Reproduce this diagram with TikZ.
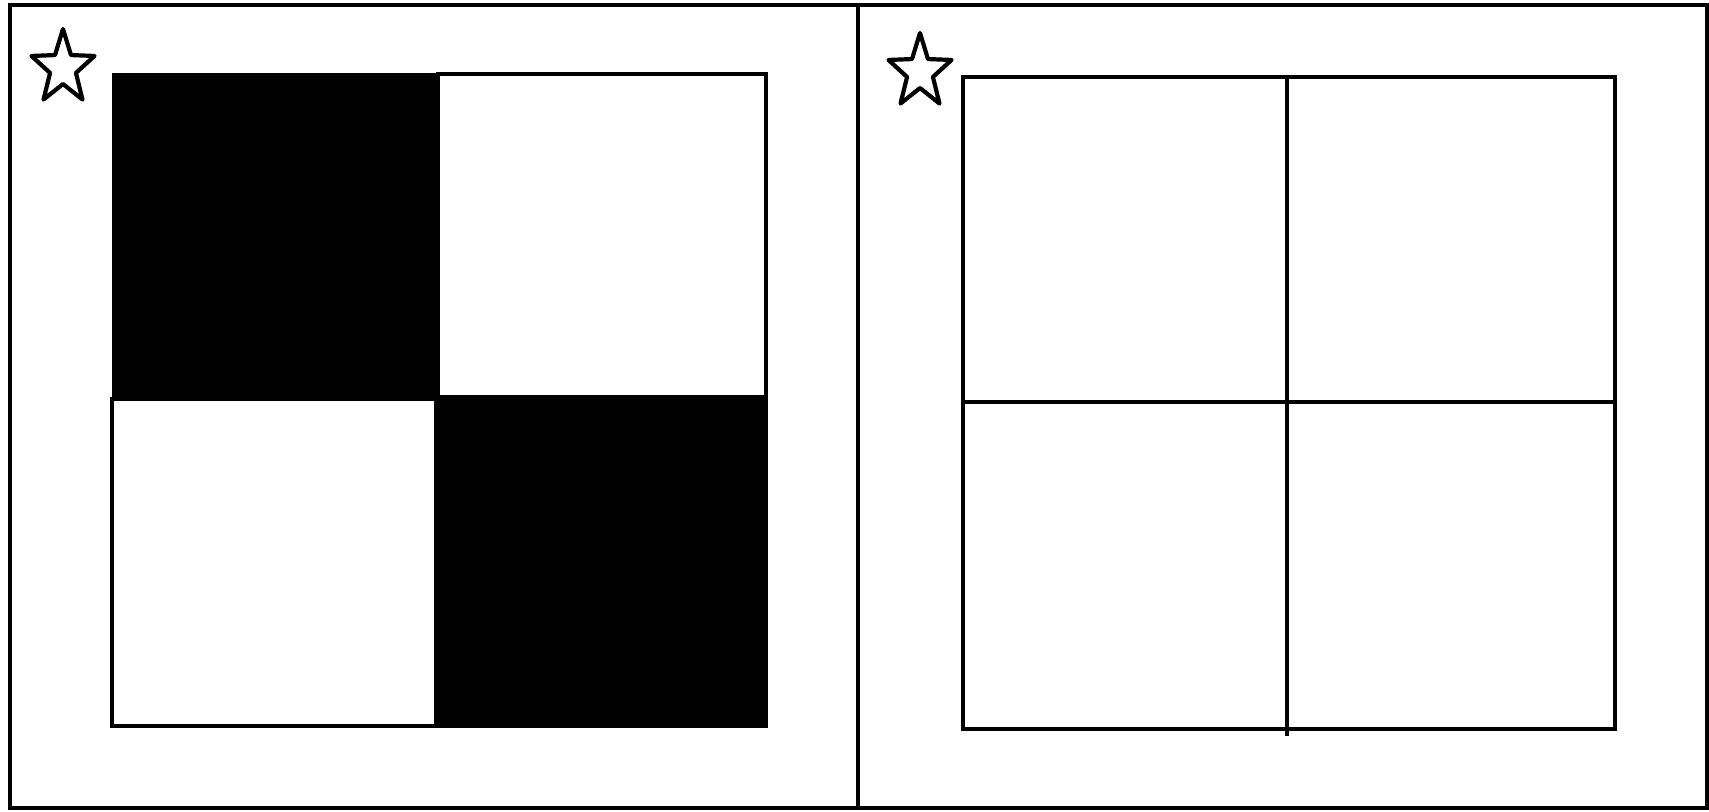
\documentclass[tikz,border=0pt]{standalone}

\begin{document}
\begin{tikzpicture}[x=0.01cm,y=-0.01cm,
    line cap=rect,line join=miter,
    thick line/.style={line width=0.036cm},
    star line/.style={line width=0.042cm,line join=round}]
    \useasboundingbox (0,0) rectangle (1709,811);

    % Outer frame and the divider between the two panels.
    \draw[thick line] (10,5) rectangle (1707,808);
    \draw[thick line] (858,5) -- (858,808);

    % Left panel: checkerboard, black squares on the diagonal.
    \fill (112,73) rectangle (438,399);
    \fill (436,397) rectangle (768,728);
    \draw[thick line] (438,74) rectangle (766,397);
    \draw[thick line] (112,399) rectangle (436,726);

    % Right panel: empty 2x2 grid.
    \draw[thick line] (963,77) rectangle (1615,729);
    \draw[thick line] (1287,77) -- (1287,734);
    \draw[thick line] (963,402) -- (1615,402);

    % Star marks in the top-left corner of each panel.
    \foreach \cx/\cy in {63/68,920/72}
      \draw[star line,shift={(\cx,\cy)},xscale=0.85] (-90:39)
        \foreach \a in {1,...,9}
          { -- ({-90+36*\a}:{mod(\a,2)==0 ? 39 : 16}) } -- cycle;
\end{tikzpicture}
\end{document}
